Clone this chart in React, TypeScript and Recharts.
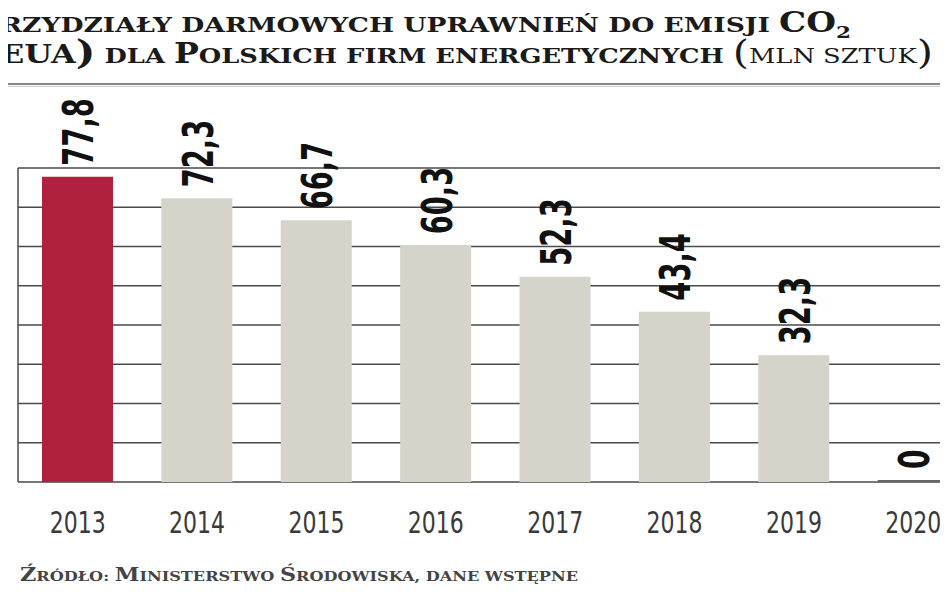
import React from "react";
import {
  BarChart,
  Bar,
  XAxis,
  YAxis,
  CartesianGrid,
  Cell,
  LabelList,
} from "recharts";

const years = ["2013", "2014", "2015", "2016", "2017", "2018", "2019", "2020"];
const allowances = [77.8, 72.3, 66.7, 60.3, 52.3, 43.4, 32.3, 0];
const yTicks = [0, 10, 20, 30, 40, 50, 60, 70, 80];

const data = years.map((year, i) => ({ year, value: allowances[i] }));

const RED = "#b0203f";
const GREY = "#d4d4cb";
const LINE = "#4a4a4a";

const serif = '"DejaVu Serif", "Liberation Serif", serif';
const narrow = '"DejaVu Sans Condensed", "DejaVu Sans", sans-serif';

function YearTick(props: any) {
  const { x, y, payload } = props;
  return (
    <text
      x={x}
      y={y + 43}
      textAnchor="middle"
      fontFamily={narrow}
      fontSize={30}
      textLength={56}
      lengthAdjust="spacingAndGlyphs"
      fill="#3a3a3a"
    >
      {payload.value}
    </text>
  );
}

function LeftTick(props: any) {
  const { y, payload } = props;
  return (
    <text
      x={3}
      y={y + 2}
      textAnchor="end"
      fontFamily={narrow}
      fontSize={26}
      fontWeight="bold"
      fill="#222"
    >
      {payload.value}
    </text>
  );
}

function ValueLabel(props: any) {
  const { x, y, width, value } = props;
  const txt = String(value).replace(".", ",");
  const digits = txt.replace(",", "").length;
  const len = digits * 19.5 + (txt.includes(",") ? 9 : 0);
  const bx = Number(x) + Number(width) / 2 + 16;
  const by = Number(y) - 11;
  return (
    <text
      x={bx}
      y={by}
      transform={`rotate(-90, ${bx}, ${by})`}
      textAnchor="start"
      fontFamily={narrow}
      fontSize={42}
      fontWeight="bold"
      textLength={len}
      lengthAdjust="spacingAndGlyphs"
      fill="#111"
    >
      {txt}
    </text>
  );
}

export default function App() {
  return (
    <div
      style={{
        position: "relative",
        width: 948,
        height: 593,
        margin: -8,
        overflow: "hidden",
        background: "#fff",
      }}
    >
      <div style={{ position: "absolute", left: 0, top: 0 }}>
        <BarChart
          width={973}
          height={593}
          data={data}
          margin={{ top: 168, right: 0, left: 0, bottom: 0 }}
        >
          <CartesianGrid vertical={false} stroke={LINE} strokeWidth={1.5} />
          <XAxis
            dataKey="year"
            height={111}
            axisLine={false}
            tickLine={false}
            tick={<YearTick />}
            interval={0}
          />
          <YAxis
            width={18}
            domain={[0, 80]}
            ticks={yTicks}
            axisLine={{ stroke: LINE, strokeWidth: 1.5 }}
            tickLine={false}
            tick={<LeftTick />}
          />
          <Bar dataKey="value" barSize={71} minPointSize={2} isAnimationActive={false}>
            {data.map((d, i) => (
              <Cell key={d.year} fill={i === 0 ? RED : i === 7 ? "#666" : GREY} />
            ))}
            <LabelList dataKey="value" content={<ValueLabel />} />
          </Bar>
        </BarChart>
      </div>

      {/* title, rules and source */}
      <svg
        width={948}
        height={593}
        style={{ position: "absolute", left: 0, top: 0, pointerEvents: "none" }}
      >
        <rect x={0} y={0} width={948} height={4} fill="#151515" />
        <rect x={0} y={5} width={948} height={1} fill="#999" />
        <rect x={0} y={83} width={948} height={2} fill="#888" />
        <rect x={0} y={86} width={948} height={1} fill="#ccc" />

        <g fontFamily={serif} fontWeight="bold" fill="#1a1a1a">
          <text x={-2} y={32} fontSize={27} textAnchor="end">P</text>
          <text x={0} y={32} textLength={851} lengthAdjust="spacingAndGlyphs">
            <tspan fontSize={21}>RZYDZIAŁY DARMOWYCH UPRAWNIEŃ DO EMISJI </tspan>
            <tspan fontSize={27}>CO</tspan>
            <tspan fontSize={17} dy={6}>2</tspan>
          </text>

          <text x={-2} y={64} fontSize={34} textAnchor="end">(</text>
          <text x={0} y={63} textLength={933} lengthAdjust="spacingAndGlyphs">
            <tspan fontSize={26}>EUA</tspan>
            <tspan fontSize={34} dy={1}>)</tspan>
            <tspan fontSize={21} dy={-1}> DLA </tspan>
            <tspan fontSize={27}>P</tspan>
            <tspan fontSize={21}>OLSKICH FIRM ENERGETYCZNYCH </tspan>
            <tspan fontSize={34} fontWeight="normal" dy={1}>(</tspan>
            <tspan fontSize={21} fontWeight="normal" dy={-1}>MLN SZTUK</tspan>
            <tspan fontSize={34} fontWeight="normal" dy={1}>)</tspan>
          </text>
        </g>

        <text
          x={20}
          y={581}
          fontFamily={serif}
          fontWeight="bold"
          fill="#444"
          textLength={558}
          lengthAdjust="spacingAndGlyphs"
        >
          <tspan fontSize={18}>Ź</tspan>
          <tspan fontSize={13}>RÓDŁO: </tspan>
          <tspan fontSize={18}>M</tspan>
          <tspan fontSize={13}>INISTERSTWO </tspan>
          <tspan fontSize={18}>Ś</tspan>
          <tspan fontSize={13}>RODOWISKA, DANE WSTĘPNE</tspan>
        </text>
      </svg>
    </div>
  );
}
